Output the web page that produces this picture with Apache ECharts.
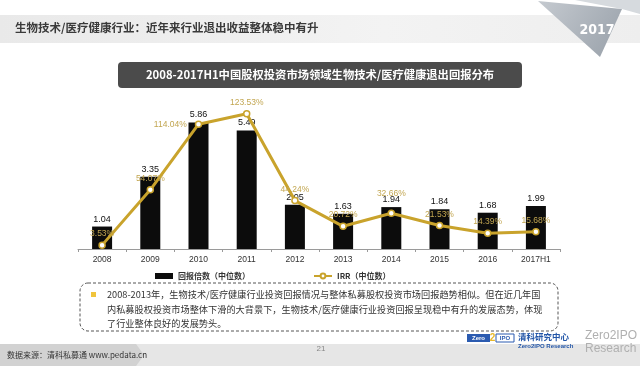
<!DOCTYPE html>
<html><head><meta charset="utf-8">
<script src="https://cdn.jsdelivr.net/npm/echarts@6/dist/echarts.min.js"></script>
<style>html,body{margin:0;padding:0;background:#fff}#c{width:640px;height:366px}</style>
</head><body><div id="c"></div>
<script>
const categories = ['2008','2009','2010','2011','2012','2013','2014','2015','2016','2017H1'];
const multiples = [1.04, 3.35, 5.86, 5.49, 2.05, 1.63, 1.94, 1.84, 1.68, 1.99];
const irr = [3.53, 54.07, 114.04, 123.53, 44.24, 20.72, 32.66, 21.53, 14.39, 15.68];
const seriesNames = ['回报倍数（中位数）', 'IRR（中位数）'];
const headerTitle = '生物技术/医疗健康行业：近年来行业退出收益整体稳中有升';
const chartTitle = '2008-2017H1中国股权投资市场领域生物技术/医疗健康退出回报分布';
const noteLines = [
  '2008-2013年，生物技术/医疗健康行业投资回报情况与整体私募股权投资市场回报趋势相似。但在近几年国',
  '内私募股权投资市场整体下滑的大背景下，生物技术/医疗健康行业投资回报呈现稳中有升的发展态势，体现',
  '了行业整体良好的发展势头。'
];
const sourceText = '数据来源：清科私募通 www.pedata.cn';

const GOLD = '#c9a32c';
const CJK = '"Noto Sans CJK SC", "Noto Sans", sans-serif';
const LAT = '"Liberation Sans", Arial, sans-serif';

const irrData = irr.map((v, i) => {
  const d = { value: v };
  if (i === 2) d.label = { position: 'left', distance: 8 };
  if (i === 6) d.label = { distance: 11 };
  return d;
});

const chart = echarts.init(document.getElementById('c'), null, { renderer: 'canvas' });
chart.setOption({
  animation: false,
  backgroundColor: '#fff',
  grid: { left: 78, right: 80, top: 87, bottom: 117 },
  legend: {
    left: 150, top: 267, itemGap: 63, itemWidth: 18, itemHeight: 6,
    textStyle: { fontSize: 8, fontWeight: 'bold', color: '#333', fontFamily: CJK },
    data: [
      { name: seriesNames[0], icon: 'rect' },
      { name: seriesNames[1] }
    ]
  },
  xAxis: {
    type: 'category', data: categories, boundaryGap: true,
    axisLine: { lineStyle: { color: '#9a9a9a', width: 1 } },
    axisTick: { show: true, length: 3, lineStyle: { color: '#9a9a9a' } },
    axisLabel: { fontSize: 8.5, color: '#333', margin: 6, fontFamily: LAT }
  },
  yAxis: [
    { type: 'value', min: 0, max: 7.5, show: false, splitLine: { show: false } },
    { type: 'value', min: 0, max: 148, show: false, splitLine: { show: false } }
  ],
  series: [
    {
      name: seriesNames[0], type: 'bar', data: multiples, barWidth: 20,
      itemStyle: { color: '#0c0c0c' },
      label: { show: true, position: 'top', distance: 3, fontSize: 9, color: '#111', fontFamily: LAT, formatter: p => p.value.toFixed(2) }
    },
    {
      name: seriesNames[1], type: 'line', yAxisIndex: 1, data: irrData,
      lineStyle: { color: GOLD, width: 3 },
      itemStyle: { color: '#fff', borderColor: GOLD, borderWidth: 1.5 },
      symbol: 'circle', symbolSize: 6, showAllSymbol: true,
      label: { show: true, position: 'top', distance: 3, fontSize: 8.5, color: '#c2a651', fontFamily: LAT, formatter: p => p.value.toFixed(2) + '%' },
      z: 5
    }
  ],
  graphic: [
    { type: 'rect', shape: { x: 0, y: 15, width: 640, height: 28 }, style: { fill: new echarts.graphic.LinearGradient(0,0,1,0,[{offset:0,color:'#e9e9e9'},{offset:0.6,color:'#f3f3f3'},{offset:1,color:'#eeeeee'}]) }, z: -1 },
    { type: 'text', x: 15, y: 22, style: { text: headerTitle, font: 'bold 11.5px ' + CJK, fill: '#3a3a3a' } },
    { type: 'polygon', shape: { points: [[575,0],[640,0],[640,14],[622,9]] }, style: { fill: '#d6dade' } },
    { type: 'polygon', shape: { points: [[538,1],[622,9],[600,57]] }, style: { fill: new echarts.graphic.LinearGradient(0,0,1,1,[{offset:0,color:'#c5cad0'},{offset:1,color:'#98a0a9'}]) } },
    { type: 'text', x: 597, y: 30, style: { text: '2017', font: 'bold 14px "Liberation Sans Narrow", "DejaVu Sans Condensed", sans-serif', fill: '#fff', align: 'center', verticalAlign: 'middle' } },
    { type: 'rect', shape: { x: 118, y: 62, width: 404, height: 26, r: 4 }, style: { fill: '#4b4b4b' } },
    { type: 'text', x: 320, y: 75, style: { text: chartTitle, font: 'bold 11.3px ' + CJK, fill: '#fff', align: 'center', verticalAlign: 'middle' } },
    { type: 'rect', shape: { x: 80, y: 283, width: 478, height: 48, r: 8 }, style: { fill: 'none', stroke: '#555', lineWidth: 1, lineDash: [3, 2] } },
    { type: 'rect', shape: { x: 91, y: 292, width: 5, height: 5 }, style: { fill: '#f0c43c' } },
    { type: 'text', x: 107, y: 295, style: { text: noteLines[0], font: '9.2px ' + CJK, fill: '#333', verticalAlign: 'middle' } },
    { type: 'text', x: 107, y: 310, style: { text: noteLines[1], font: '9.2px ' + CJK, fill: '#333', verticalAlign: 'middle' } },
    { type: 'text', x: 107, y: 324, style: { text: noteLines[2], font: '9.2px ' + CJK, fill: '#333', verticalAlign: 'middle' } },
    { type: 'rect', shape: { x: 0, y: 344, width: 640, height: 22 }, style: { fill: '#e6e6e6' }, z: -1 },
    { type: 'polygon', shape: { points: [[0,344],[136,344],[144,355],[136,366],[0,366]] }, style: { fill: '#d2d2d2' } },
    { type: 'text', x: 7, y: 355, style: { text: sourceText, font: '8px ' + CJK, fill: '#333', verticalAlign: 'middle' } },
    { type: 'text', x: 321, y: 349, style: { text: '21', font: '8px ' + LAT, fill: '#888', align: 'center', verticalAlign: 'middle' } },
    { type: 'rect', shape: { x: 467, y: 334, width: 23, height: 8 }, style: { fill: '#2b5bb0' } },
    { type: 'text', x: 478.5, y: 338, style: { text: 'Zero', font: 'bold 6px ' + LAT, fill: '#fff', align: 'center', verticalAlign: 'middle' } },
    { type: 'text', x: 492.5, y: 338, style: { text: '2', font: 'bold 10px ' + LAT, fill: '#e8b82a', align: 'center', verticalAlign: 'middle' } },
    { type: 'rect', shape: { x: 496, y: 334, width: 18, height: 8 }, style: { fill: '#fff', stroke: '#2b5bb0', lineWidth: 1 } },
    { type: 'text', x: 505, y: 338, style: { text: 'IPO', font: 'bold 6px ' + LAT, fill: '#2b5bb0', align: 'center', verticalAlign: 'middle' } },
    { type: 'text', x: 518, y: 337, style: { text: '清科研究中心', font: 'bold 8.5px ' + CJK, fill: '#2356a8', verticalAlign: 'middle' } },
    { type: 'text', x: 518, y: 346, style: { text: 'Zero2IPO Research', font: 'bold 6px ' + LAT, fill: '#2356a8', verticalAlign: 'middle' } },
    { type: 'text', x: 585, y: 336, style: { text: 'Zero2IPO', font: '12px ' + LAT, fill: '#b0b0b0', verticalAlign: 'middle' } },
    { type: 'text', x: 585, y: 349, style: { text: 'Research', font: '12px ' + LAT, fill: '#b0b0b0', verticalAlign: 'middle' } }
  ]
});
</script></body></html>
